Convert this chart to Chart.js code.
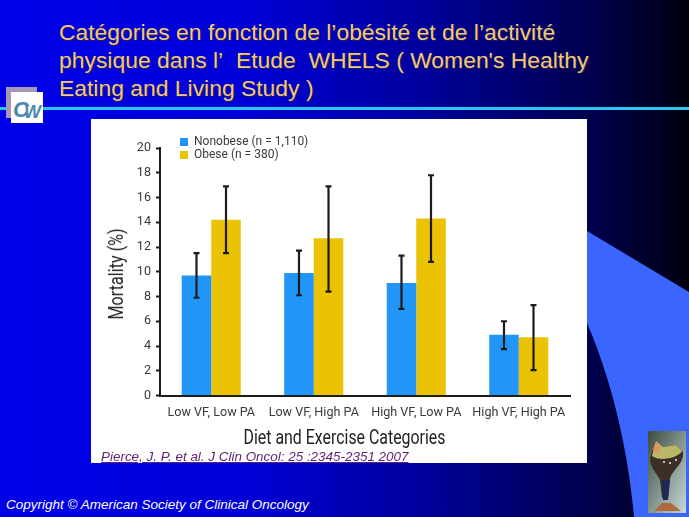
<!DOCTYPE html>
<html>
<head>
<meta charset="utf-8">
<script src="https://cdn.jsdelivr.net/npm/chart.js@4"></script>
<style>
  html, body { margin: 0; padding: 0; }
  #slide { position: relative; width: 689px; height: 517px; overflow: hidden;
    background: linear-gradient(90deg, #0000e8 0%, #0000d8 35%, #0000a0 60%, #000050 85%, #000010 100%); }
  #deco { position: absolute; left: 0; top: 0; }
  .title { position: absolute; left: 59px; color: #f0c880; white-space: nowrap;
    font: 22.9px "Liberation Sans", Arial, sans-serif; text-shadow: 1px 1px 1px #302050; }
  #panel { position: absolute; left: 91px; top: 119px; width: 496px; height: 344px; background: #fff; }
  .axisTitle { position: absolute; color: #222; white-space: nowrap; height: 24px;
    font: 20px Roboto, sans-serif; line-height: 24px; }
  #xTitle { left: 130px; top: 306px; width: 220px; text-align: center; transform: scaleX(0.795); }
  #yTitle { left: -85px; top: 143px; width: 220px; text-align: center; transform: rotate(-90deg) scaleX(0.81); }
  #source { position: absolute; left: 101px; top: 449px; color: #5d1f72; text-decoration: underline;
    font: italic 13.45px "Liberation Sans", Arial, sans-serif; white-space: nowrap; }
  #copyright { position: absolute; left: 6px; top: 497px; color: #fff;
    font: italic 13.5px "Liberation Sans", Arial, sans-serif; white-space: nowrap; }
</style>
</head>
<body>
<div id="slide">
  <svg id="deco" width="689" height="517">
    <defs>
      <linearGradient id="vaseBg" x1="0" y1="0" x2="1" y2="1">
        <stop offset="0" stop-color="#3c4c40"/>
        <stop offset="1" stop-color="#c8d8d8"/>
      </linearGradient>
    </defs>
    <path d="M587 231 L689 292 L689 517 L634 517 C630 470 618 395 587 323 Z" fill="#3a66ff"/>
    <rect x="0" y="107" width="689" height="3" fill="#2cc6f2"/>
    <rect x="6" y="87" width="31" height="31" fill="#a898b8"/>
    <rect x="11" y="92" width="32" height="31" fill="#fff"/>
    <text x="13" y="117" font-family="Liberation Sans" font-style="italic" font-weight="bold" font-size="22" fill="#4a88b0">C</text>
    <text x="24" y="118" font-family="Liberation Sans" font-style="italic" font-weight="bold" font-size="18" fill="#4a88b0">W</text>
    <rect x="648" y="431" width="38" height="82" fill="url(#vaseBg)"/>
    <path d="M656 441 L663 447 L676 445 L683 452 C684 464 674 468 670 478 L668 498 L662 498 L660 480 C656 472 650 468 650 458 Z" fill="#3a3028"/>
    <path d="M656 441 L663 447 L676 445 L682 451 C678 458 660 462 652 456 Z" fill="#b8b868"/>
    <path d="M656 441 L661 448 L657 454 L653 450 Z" fill="#d89a60"/>
    <path d="M662 480 L670 480 L668 500 L663 500 Z" fill="#20285a"/>
    <circle cx="664" cy="462" r="1" fill="#eee"/><circle cx="670" cy="463" r="1" fill="#eee"/><circle cx="676" cy="460" r="1" fill="#eee"/>
    <path d="M654 511 L662 503 L671 503 L681 511 Z" fill="#b06a40"/>
  </svg>
  <div class="title" style="top:19px">Catégories en fonction de l’obésité et de l’activité</div>
  <div class="title" style="top:47px">physique dans l’&nbsp; Etude&nbsp; WHELS ( Women's Healthy</div>
  <div class="title" style="top:75px">Eating and Living Study )</div>
  <div id="panel">
    <canvas id="chart" width="496" height="344"></canvas>
    <div id="xTitle" class="axisTitle">Diet and Exercise Categories</div>
    <div id="yTitle" class="axisTitle">Mortality (%)</div>
  </div>
  <div id="source">Pierce, J. P. et al. J Clin Oncol: 25 :2345-2351 2007</div>
  <div id="copyright">Copyright © American Society of Clinical Oncology</div>
</div>
<script>
const categories = ['Low VF, Low PA', 'Low VF, High PA', 'High VF, Low PA', 'High VF, High PA'];
const nonobese = [9.7, 9.9, 9.1, 4.9];
const obese = [14.2, 12.7, 14.3, 4.7];
const nonobeseLow = [7.9, 8.1, 7.0, 3.75];
const nonobeseHigh = [11.5, 11.7, 11.3, 6.0];
const obeseLow = [11.5, 8.4, 10.8, 2.05];
const obeseHigh = [16.9, 16.9, 17.8, 7.3];
const yTicks = [0, 2, 4, 6, 8, 10, 12, 14, 16, 18, 20];

const inkColor = '#1c1c1c';
const textColor = '#3a3a3a';
const tickFont = { family: 'Roboto', size: 12.6 };

// whiskers, one low/high pair per bar
const errorBars = {
  id: 'errorBars',
  afterDatasetsDraw(chart) {
    const ctx = chart.ctx;
    const y = chart.scales.y;
    chart.data.datasets.forEach((ds, i) => {
      chart.getDatasetMeta(i).data.forEach((bar, j) => {
        const top = y.getPixelForValue(ds.errHigh[j]);
        const bottom = y.getPixelForValue(ds.errLow[j]);
        ctx.save();
        ctx.strokeStyle = inkColor;
        ctx.lineWidth = 2.2;
        ctx.beginPath();
        ctx.moveTo(bar.x, top);
        ctx.lineTo(bar.x, bottom);
        ctx.moveTo(bar.x - 3, top);
        ctx.lineTo(bar.x + 3, top);
        ctx.moveTo(bar.x - 3, bottom);
        ctx.lineTo(bar.x + 3, bottom);
        ctx.stroke();
        ctx.restore();
      });
    });
  }
};

// legend sits above the top of the plot, so nudge it after layout
const moveLegend = {
  id: 'moveLegend',
  afterLayout(chart) {
    chart.legend.left = 88;
    chart.legend.top = 16;
  }
};

new Chart(document.getElementById('chart'), {
  type: 'bar',
  data: {
    labels: categories,
    datasets: [
      { label: 'Nonobese (n = 1,110)', data: nonobese, errLow: nonobeseLow, errHigh: nonobeseHigh, backgroundColor: '#2196f8' },
      { label: 'Obese (n = 380)', data: obese, errLow: obeseLow, errHigh: obeseHigh, backgroundColor: '#ebc305' }
    ]
  },
  plugins: [errorBars, moveLegend],
  options: {
    responsive: false,
    animation: false,
    devicePixelRatio: 1,
    layout: { padding: { top: 29, right: 17, left: 0, bottom: 0 } },
    datasets: { bar: { categoryPercentage: 0.576, barPercentage: 1 } },
    plugins: {
      tooltip: { enabled: false },
      legend: {
        position: 'chartArea',
        align: 'start',
        labels: { boxWidth: 8, boxHeight: 8, padding: 1, color: textColor, font: { family: 'Roboto', size: 12 } }
      }
    },
    scales: {
      x: {
        grid: { display: false },
        border: { color: inkColor, width: 2 },
        afterFit(scale) { scale.height = 67.5; },
        ticks: { color: textColor, font: tickFont, padding: 2, maxRotation: 0 }
      },
      y: {
        min: 0,
        max: 20,
        afterFit(scale) { scale.width = 69; },
        afterBuildTicks(scale) { scale.ticks = yTicks.map(v => ({ value: v })); },
        grid: { drawOnChartArea: false, tickLength: 4, tickColor: inkColor, tickWidth: 2 },
        border: { color: inkColor, width: 2 },
        ticks: { color: textColor, font: tickFont, padding: 5 }
      }
    }
  }
});
</script>
</body>
</html>
